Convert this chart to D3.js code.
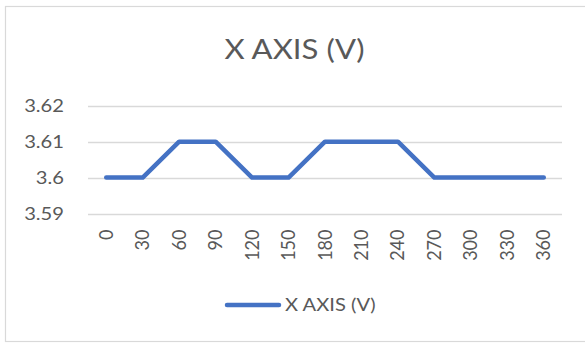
<!DOCTYPE html>
<html>
<head>
<meta charset="utf-8">
<script src="https://cdn.jsdelivr.net/npm/d3@7"></script>
<style>
  html, body { margin: 0; padding: 0; background: #ffffff; }
  svg { display: block; }
</style>
</head>
<body>
<svg id="chart" width="585" height="343"></svg>
<script>
// Sensor reading per angle step
const angles = [0, 30, 60, 90, 120, 150, 180, 210, 240, 270, 300, 330, 360];
const voltages = [3.60, 3.60, 3.61, 3.61, 3.60, 3.60, 3.61, 3.61, 3.61, 3.60, 3.60, 3.60, 3.60];
const yTicks = [3.59, 3.60, 3.61, 3.62];
const yTickLabels = ["3.59", "3.6", "3.61", "3.62"];
const seriesName = "X AXIS (V)";
const chartTitle = "X AXIS (V)";

const W = 585, H = 343;
const textColor = "#595959";
const gridColor = "#d9d9d9";
const lineColor = "#4472C4";
const font = "Lato, 'Open Sans', sans-serif";
const stretch = 1.12; // glyphs are drawn slightly wide

const svg = d3.select("#chart");

// outer chart frame
svg.append("rect")
  .attr("x", 5.5).attr("y", 6.5)
  .attr("width", 620).attr("height", 335)
  .attr("fill", "#ffffff")
  .attr("stroke", gridColor).attr("stroke-width", 1.2);

const plot = { left: 88, right: 562, top: 105.7, bottom: 213.5 };

const x = d3.scalePoint()
  .domain(angles)
  .range([plot.left, plot.right])
  .padding(0.5);

const y = d3.scaleLinear()
  .domain([yTicks[0], yTicks[yTicks.length - 1]])
  .range([plot.bottom, plot.top]);

// horizontal gridlines
svg.append("g").selectAll("line")
  .data(yTicks)
  .join("line")
  .attr("x1", plot.left).attr("x2", plot.right)
  .attr("y1", d => Math.round(y(d)) + 0.5)
  .attr("y2", d => Math.round(y(d)) + 0.5)
  .attr("stroke", gridColor).attr("stroke-width", 1.3);

function label(g, tx, ty, str, size, anchor, rot) {
  return g.append("text")
    .attr("transform", `translate(${tx},${ty}) scale(${stretch},1)` + (rot ? ` rotate(${rot})` : ""))
    .attr("text-anchor", anchor)
    .attr("font-family", font)
    .attr("font-size", size)
    .attr("fill", textColor)
    .text(str);
}

// y axis labels
const yAxis = svg.append("g");
yTicks.forEach((t, i) => {
  label(yAxis, 64, y(t) + 6.4, yTickLabels[i], 18, "end");
});

// x axis labels, rotated
const xAxis = svg.append("g");
angles.forEach(a => {
  label(xAxis, x(a) + 6.5 , 229.5, String(a), 18, "end", -90);
});

// series line
const line = d3.line()
  .x((d, i) => x(angles[i]))
  .y(d => y(d));

svg.append("path")
  .datum(voltages)
  .attr("d", line)
  .attr("fill", "none")
  .attr("stroke", lineColor)
  .attr("stroke-width", 4.5)
  .attr("stroke-linejoin", "round")
  .attr("stroke-linecap", "round");

// title
label(svg, 294.5, 58.5, chartTitle, 27.8, "middle");

// legend
const legend = svg.append("g");
legend.append("line")
  .attr("x1", 227).attr("x2", 279)
  .attr("y1", 305).attr("y2", 305)
  .attr("stroke", lineColor).attr("stroke-width", 4.5)
  .attr("stroke-linecap", "round");
label(legend, 285, 311.3, seriesName, 18, "start");
</script>
</body>
</html>
